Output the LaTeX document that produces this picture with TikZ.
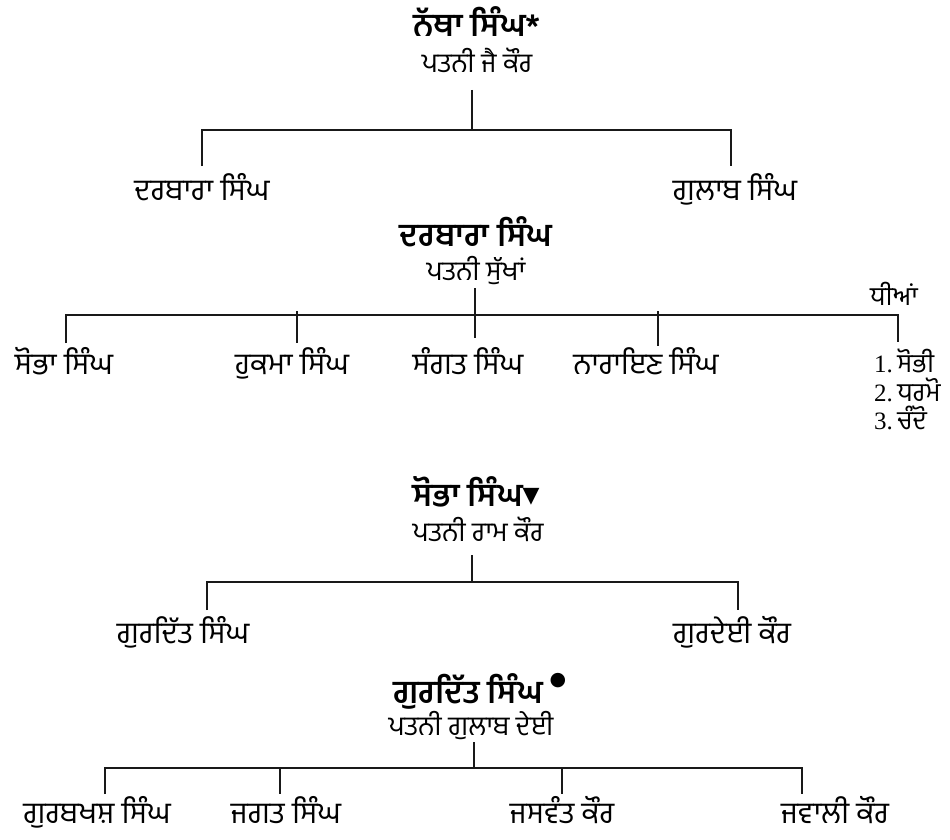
\documentclass[tikz,border=0pt]{standalone}
\usepackage{fontspec}
\newfontfamily\pa[Script=Gurmukhi]{Hind Jalandhar}
\newfontfamily\sym{DejaVu Sans}
\newfontfamily\num{Liberation Serif}
\newcommand\nrfont{\num\fontsize{25}{28}\selectfont}
\begin{document}
\begin{tikzpicture}[x=1pt,y=-1pt,
  ttl/.style={font=\pa\bfseries\fontsize{32}{36}\selectfont, inner sep=0pt, text height=24pt, text depth=0pt},
  wife/.style={font=\pa\fontsize{27}{30}\selectfont, inner sep=0pt, text height=20pt, text depth=0pt},
  kid/.style={font=\pa\fontsize{30}{34}\selectfont, inner sep=0pt, text height=22pt, text depth=0pt},
  dau/.style={font=\pa\fontsize{26}{30}\selectfont, inner sep=0pt, text height=19pt, text depth=0pt, anchor=west},
  ln/.style={line width=2.1pt, black!90}]
\useasboundingbox (0,0) rectangle (950,840);

% ---------- section 1 ----------
\node[ttl] (t1) at (477,25) {ਨੱਥਾ ਸਿੰਘ*};
\node[wife] (w1) at (477,63) {ਪਤਨੀ ਜੈ ਕੌਰ};
\coordinate (v1) at (472,90);
\coordinate (b1) at (472,130);
\coordinate (d11) at (202,166);
\coordinate (d12) at (731,166);
\node[kid] (c11) at (202,189) {ਦਰਬਾਰਾ ਸਿੰਘ};
\node[kid] (c12) at (735,189) {ਗੁਲਾਬ ਸਿੰਘ};
\draw[ln] (v1) -- (b1);
\draw[ln] (d11) |- (b1) -| (d12);

% ---------- section 2 ----------
\node[ttl] (t2) at (476,234) {ਦਰਬਾਰਾ ਸਿੰਘ};
\node[wife] (w2) at (476,270) {ਪਤਨੀ ਸੁੱਖਾਂ};
\node[dau, anchor=center] (dh) at (894,296) {ਧੀਆਂ};
\coordinate (v2) at (475,288);
\coordinate (v2e) at (475,338);
\coordinate (b2) at (475,315);
\coordinate (d21) at (66,343);
\coordinate (d22t) at (297,311);
\coordinate (d22) at (297,343);
\coordinate (d24t) at (658,311);
\coordinate (d24) at (658,346);
\coordinate (d25) at (898,342);
\node[kid] (c21) at (64,363) {ਸੋਭਾ ਸਿੰਘ};
\node[kid] (c22) at (292,363) {ਹੁਕਮਾ ਸਿੰਘ};
\node[kid] (c23) at (468,363) {ਸੰਗਤ ਸਿੰਘ};
\node[kid] (c24) at (646,363) {ਨਾਰਾਇਣ ਸਿੰਘ};
\node[dau] (g1) at (874,363) {{\nrfont 1.}\,ਸੋਭੀ};
\node[dau] (g2) at (874,392) {{\nrfont 2.}\,ਧਰਮੋ};
\node[dau] (g3) at (874,420) {{\nrfont 3.}\,ਚੰਦੋ};
\draw[ln] (v2) -- (v2e);
\draw[ln] (d21) |- (b2) -| (d25);
\draw[ln] (d22t) -- (d22);
\draw[ln] (d24t) -- (d24);

% ---------- section 3 ----------
\node[ttl] (t3) at (476,494) {ਸੋਭਾ ਸਿੰਘ\raisebox{4pt}{\sym\fontsize{22}{22}\selectfont ▼}};
\node[wife] (w3) at (478,531) {ਪਤਨੀ ਰਾਮ ਕੌਰ};
\coordinate (v3) at (472,555);
\coordinate (b3) at (472,582);
\coordinate (d31) at (207,610);
\coordinate (d32) at (738,610);
\node[kid] (c31) at (183,632) {ਗੁਰਦਿੱਤ ਸਿੰਘ};
\node[kid] (c32) at (732,632) {ਗੁਰਦੇਈ ਕੌਰ};
\draw[ln] (v3) -- (b3);
\draw[ln] (d31) |- (b3) -| (d32);

% ---------- section 4 ----------
\node[ttl] (t4) at (468,691) {ਗੁਰਦਿੱਤ ਸਿੰਘ};
\node[font=\sym\fontsize{19}{19}\selectfont, inner sep=0pt] (bul) at (558,681) {●};
\node[wife] (w4) at (471,725) {ਪਤਨੀ ਗੁਲਾਬ ਦੇਈ};
\coordinate (v4) at (474,742);
\coordinate (b4) at (474,768);
\coordinate (d41) at (105,794);
\coordinate (d42t) at (280,768);
\coordinate (d42) at (280,794);
\coordinate (d43t) at (562,768);
\coordinate (d43) at (562,794);
\coordinate (d44) at (802,794);
\node[kid] (c41) at (97,812) {ਗੁਰਬਖਸ਼ ਸਿੰਘ};
\node[kid] (c42) at (286,812) {ਜਗਤ ਸਿੰਘ};
\node[kid] (c43) at (562,812) {ਜਸਵੰਤ ਕੌਰ};
\node[kid] (c44) at (835,812) {ਜਵਾਲੀ ਕੌਰ};
\draw[ln] (v4) -- (b4);
\draw[ln] (d41) |- (b4) -| (d44);
\draw[ln] (d42t) -- (d42);
\draw[ln] (d43t) -- (d43);
\end{tikzpicture}
\end{document}
